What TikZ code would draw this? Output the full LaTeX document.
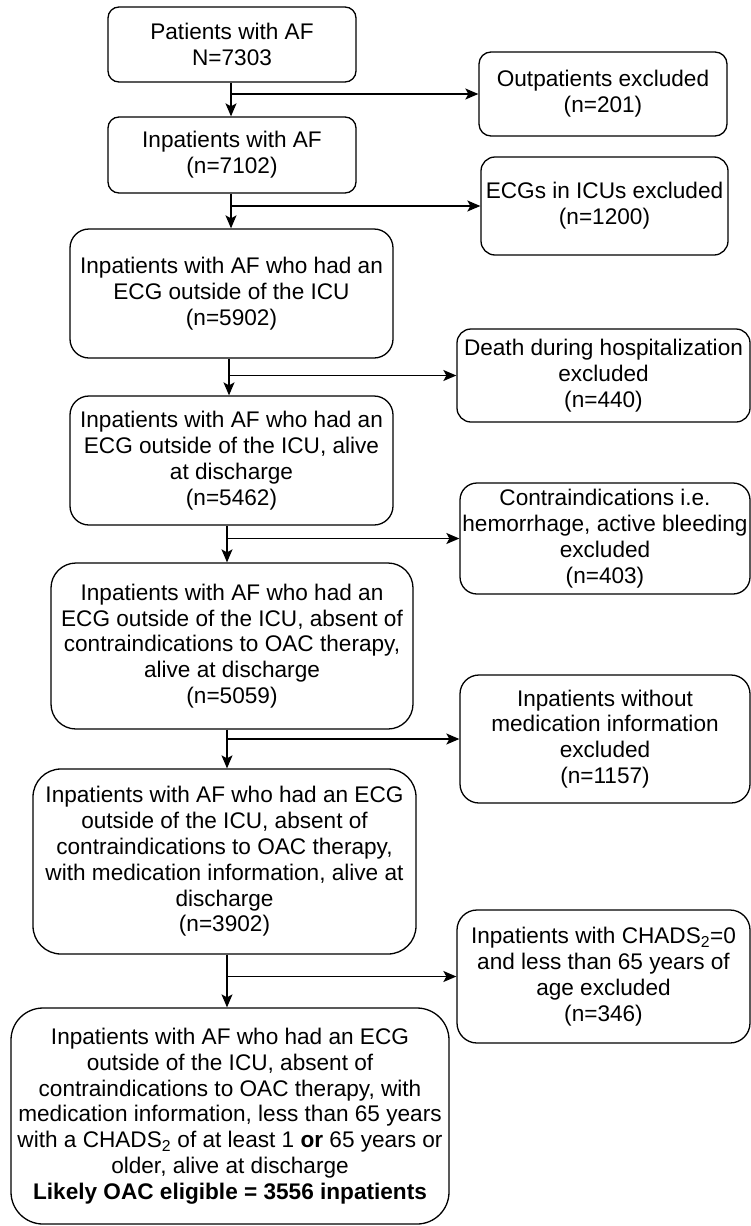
\documentclass[tikz,border=0pt]{standalone}
\usepackage{fontspec}
\setmainfont{Liberation Sans}
\usetikzlibrary{arrows.meta}
\tikzset{
  box/.style={draw=black, line width=1.3pt, fill=white, align=center, inner sep=2pt,
    font=\fontsize{22.6}{25.8}\selectfont},
  arr/.style={line width=1.3pt, -{Stealth[length=13pt,width=11pt,inset=3pt]}}
}
\begin{document}
\begin{tikzpicture}[x=1pt,y=-1pt]
\useasboundingbox[fill=white] (0,0) rectangle (751,1226);
% main column
\node[box, minimum width=248pt, minimum height=75pt, rounded corners=11pt] (b1) at (232,44.5)
  {Patients with AF\\N=7303};
\node[box, minimum width=248pt, minimum height=76pt, rounded corners=11pt] (b2) at (232,155)
  {Inpatients with AF\\(n=7102)};
\node[box, minimum width=323pt, minimum height=129pt, rounded corners=19pt] (b3) at (231.5,293.5)
  {Inpatients with AF who had an\\ECG outside of the ICU\\(n=5902)};
\node[box, minimum width=323pt, minimum height=129pt, rounded corners=19pt] (b4) at (231.5,460.5)
  {Inpatients with AF who had an\\ECG outside of the ICU, alive\\at discharge\\(n=5462)};
\node[box, minimum width=362pt, minimum height=166pt, rounded corners=25pt] (b5) at (232,646)
  {Inpatients with AF who had an\\ECG outside of the ICU, absent of\\contraindications to OAC therapy,\\alive at discharge\\(n=5059)};
\node[box, minimum width=383pt, minimum height=185pt, rounded corners=28pt] (b6) at (224.5,861.5)
  {Inpatients with AF who had an ECG\\outside of the ICU, absent of\\contraindications to OAC therapy,\\with medication information, alive at\\discharge\\(n=3902)};
\node[box, minimum width=438pt, minimum height=216pt, rounded corners=32pt] (b7) at (230,1116)
  {Inpatients with AF who had an ECG\\outside of the ICU, absent of\\contraindications to OAC therapy, with\\medication information, less than 65 years\\with a CHADS\textsubscript{2} of at least 1 \textbf{or} 65 years or\\older, alive at discharge\\\textbf{Likely OAC eligible = 3556 inpatients}};
% exclusion column
\node[box, minimum width=248pt, minimum height=84pt, rounded corners=12pt] (r1) at (603,94)
  {Outpatients excluded\\(n=201)};
\node[box, minimum width=247pt, minimum height=98pt, rounded corners=14pt] (r2) at (604.5,206)
  {ECGs in ICUs excluded\\(n=1200)};
\node[box, minimum width=293pt, minimum height=93pt, rounded corners=14pt] (r3) at (603.5,375.5)
  {Death during hospitalization\\excluded\\(n=440)};
\node[box, minimum width=290pt, minimum height=111pt, rounded corners=17pt] (r4) at (605,538.5)
  {Contraindications i.e.\\hemorrhage, active bleeding\\excluded\\(n=403)};
\node[box, minimum width=290pt, minimum height=128pt, rounded corners=19pt] (r5) at (605,739)
  {Inpatients without\\medication information\\excluded\\(n=1157)};
\node[box, minimum width=293pt, minimum height=133pt, rounded corners=20pt] (r6) at (603.5,976.5)
  {Inpatients with CHADS\textsubscript{2}=0\\and less than 65 years of\\age excluded\\(n=346)};
% connectors
\coordinate (v1) at ([xshift=-1pt]b1.south);
\coordinate (v2) at ([xshift=-1pt]b2.south);
\coordinate (v3) at ([xshift=-2.5pt]b3.south);
\coordinate (v4) at ([xshift=-4.5pt]b4.south);
\coordinate (v5) at ([xshift=-5pt]b5.south);
\coordinate (v6) at ([xshift=2.5pt]b6.south);
\draw[arr] (v1) -- (v1 |- b2.north);
\draw[arr] (v1 |- r1.west) -- (r1.west);
\draw[arr] (v2) -- (v2 |- b3.north);
\draw[arr] (v2 |- r2.west) -- (r2.west);
\draw[arr] (v3) -- (v3 |- b4.north);
\draw[arr] (v3 |- r3.west) -- (r3.west);
\draw[arr] (v4) -- (v4 |- b5.north);
\draw[arr] (v4 |- r4.west) -- (r4.west);
\draw[arr] (v5) -- (v5 |- b6.north);
\draw[arr] (v5 |- r5.west) -- (r5.west);
\draw[arr] (v6) -- (v6 |- b7.north);
\draw[arr] (v6 |- r6.west) -- (r6.west);
\end{tikzpicture}
\end{document}
